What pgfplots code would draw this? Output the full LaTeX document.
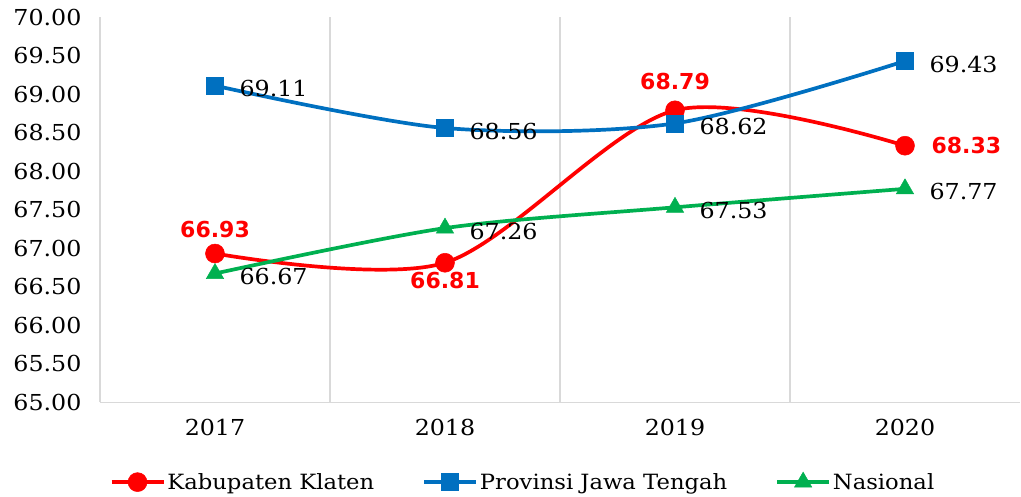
\documentclass[border=0pt]{standalone}
\usepackage{pgfplots}
\pgfplotsset{compat=1.18}
\usepackage{fontspec}
\setmainfont{DejaVu Serif}[FakeStretch=1.08]
\newfontfamily\lblsans{DejaVu Sans}
\definecolor{cred}{HTML}{FF0000}
\definecolor{cblue}{HTML}{0070C0}
\definecolor{cgreen}{HTML}{00B050}
\definecolor{cgrid}{HTML}{D9D9D9}
\begin{document}
\begin{tikzpicture}
\path[use as bounding box] (-100pt,-95pt) rectangle (921pt,402pt);
\begin{axis}[
  at={(0pt,0pt)}, anchor=south west,
  scale only axis, width=920pt, height=385pt,
  xmin=-0.5, xmax=3.5, ymin=65, ymax=70,
  axis x line*=bottom, axis y line*=left,
  axis line style={cgrid, line width=1.2pt},
  xtick={0,1,2,3}, xticklabels={2017,2018,2019,2020},
  minor xtick={0.5,1.5,2.5}, xminorgrids,
  minor grid style={cgrid, line width=1.2pt},
  major tick length=0pt, minor tick length=0pt,
  ytick={65,65.5,66,66.5,67,67.5,68,68.5,69,69.5,70},
  /pgf/number format/assume math mode=true,
  /pgf/number format/fixed, /pgf/number format/fixed zerofill, /pgf/number format/precision=2,
  tick label style={font=\fontsize{22}{26}\selectfont, text=black},
  yticklabel style={xshift=-15pt},
  xticklabel style={yshift=-14pt},
  legend style={at={(0.5,0)}, anchor=center, xshift=-37pt, yshift=-80pt, draw=none,
    font=\fontsize{21}{25}\selectfont, legend columns=3,
    /tikz/every even column/.append style={column sep=46pt}},
  legend image code/.code={\draw[mark repeat=2,mark phase=2] plot coordinates {(0pt,0pt) (26pt,0pt) (52pt,0pt)};},
  clip=false,
]
\draw[gray!70, line width=1pt] (axis cs:2,68.79) ++(0,8pt) -- ++(0,10pt);
\addplot[cred, line width=3.7pt, smooth, mark=*, mark size=9.5pt, mark options={solid, line width=0.5pt}]
  coordinates {(0,66.93) (1,66.81) (2,68.79) (3,68.33)};
\addlegendentry{Kabupaten Klaten}
\addplot[cblue, line width=3.7pt, smooth, mark=square*, mark size=8.5pt, mark options={solid, line width=0.5pt},
  nodes near coords, every node near coord/.append style={anchor=west, xshift=21pt, yshift=-3pt, text=black, font=\fontsize{22}{26}\selectfont}]
  coordinates {(0,69.11) (1,68.56) (2,68.62) (3,69.43)};
\addlegendentry{Provinsi Jawa Tengah}
\addplot[cgreen, line width=3.7pt, smooth, mark=triangle*, mark size=10pt, mark options={solid, line width=0.5pt},
  nodes near coords, every node near coord/.append style={anchor=west, xshift=21pt, yshift=-3pt, text=black, font=\fontsize{22}{26}\selectfont}]
  coordinates {(0,66.67) (1,67.26) (2,67.53) (3,67.77)};
\addlegendentry{Nasional}
% red labels
\addplot[draw=none, mark=none, forget plot, nodes near coords,
  every node near coord/.append style={anchor=south, yshift=12pt, text=cred, font=\lblsans\bfseries\fontsize{22}{26}\selectfont}]
  coordinates {(0,66.93)};
\addplot[draw=none, mark=none, forget plot, nodes near coords,
  every node near coord/.append style={anchor=south, yshift=17pt, text=cred, font=\lblsans\bfseries\fontsize{22}{26}\selectfont}]
  coordinates {(2,68.79)};
\addplot[draw=none, mark=none, forget plot, nodes near coords,
  every node near coord/.append style={anchor=north, yshift=-6pt, text=cred, font=\lblsans\bfseries\fontsize{22}{26}\selectfont}]
  coordinates {(1,66.81)};
\addplot[draw=none, mark=none, forget plot, nodes near coords,
  every node near coord/.append style={anchor=west, xshift=23pt, text=cred, font=\lblsans\bfseries\fontsize{22}{26}\selectfont}]
  coordinates {(3,68.33)};
\end{axis}
\end{tikzpicture}
\end{document}
